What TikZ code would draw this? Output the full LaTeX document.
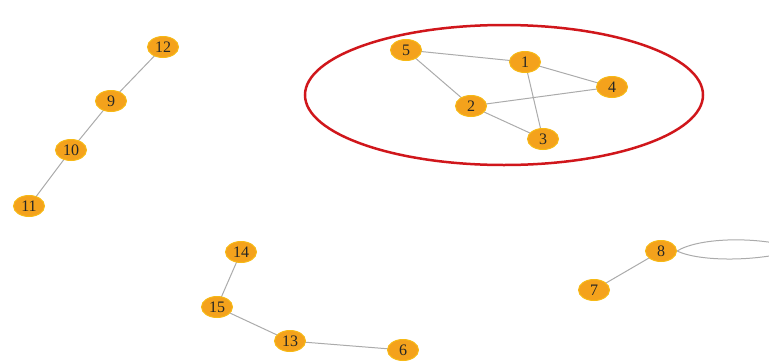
\documentclass[tikz,border=0pt]{standalone}
\usepackage{fontspec}
\setmainfont{Liberation Serif}
\usetikzlibrary{shapes.geometric,backgrounds}
\definecolor{vfill}{HTML}{F4A21C}
\definecolor{vedge}{HTML}{ABABAB}
\definecolor{ring}{HTML}{D0161B}
\begin{document}
\begin{tikzpicture}[x=1pt,y=-1pt,
  vtx/.style={ellipse,fill=vfill,draw=vfill!75!yellow,line width=1pt,minimum width=31pt,minimum height=21pt,inner sep=0pt,font=\fontsize{16}{16}\selectfont,text=black!85},
  edg/.style={draw=vedge,line width=1pt}]
\useasboundingbox (0,0) rectangle (769,362);
\clip (0,0) rectangle (769,362);
\node[ellipse,draw=ring,line width=2.5pt,minimum width=398pt,minimum height=140pt] (ring) at (504,95) {};
% left chain
\node[vtx] (n12) at (163,47) {12};
\node[vtx] (n9) at (111,101) {9};
\node[vtx] (n10) at (71,150) {10};
\node[vtx] (n11) at (29,206) {11};
% circled component
\node[vtx] (n5) at (406,50) {5};
\node[vtx] (n1) at (525,62) {1};
\node[vtx] (n4) at (612,87) {4};
\node[vtx] (n2) at (471,106) {2};
\node[vtx] (n3) at (543,139) {3};
% bottom right
\node[vtx] (n8) at (661,251) {8};
\node[vtx] (n7) at (594,290) {7};
% bottom middle
\node[vtx] (n14) at (241,252) {14};
\node[vtx] (n15) at (217,307) {15};
\node[vtx] (n13) at (290,341) {13};
\node[vtx] (n6) at (403,350) {6};
\coordinate (loopend) at (800,249);
\begin{scope}[on background layer]
\path[edg] (n12.center) -- (n9.center) (n9.center) -- (n10.center) (n10.center) -- (n11.center)
  (n5.center) -- (n1.center) (n5.center) -- (n2.center) (n1.center) -- (n4.center)
  (n1.center) -- (n3.center) (n2.center) -- (n4.center) (n2.center) -- (n3.center)
  (n8.center) -- (n7.center)
  (n14.center) -- (n15.center) (n15.center) -- (n13.center) (n13.center) -- (n6.center);
\path[edg] (n8.east) .. controls (700,237) and (760,236) .. (loopend)
  (n8.east) .. controls (700,262) and (760,262) .. (loopend);
\end{scope}
\end{tikzpicture}
\end{document}
